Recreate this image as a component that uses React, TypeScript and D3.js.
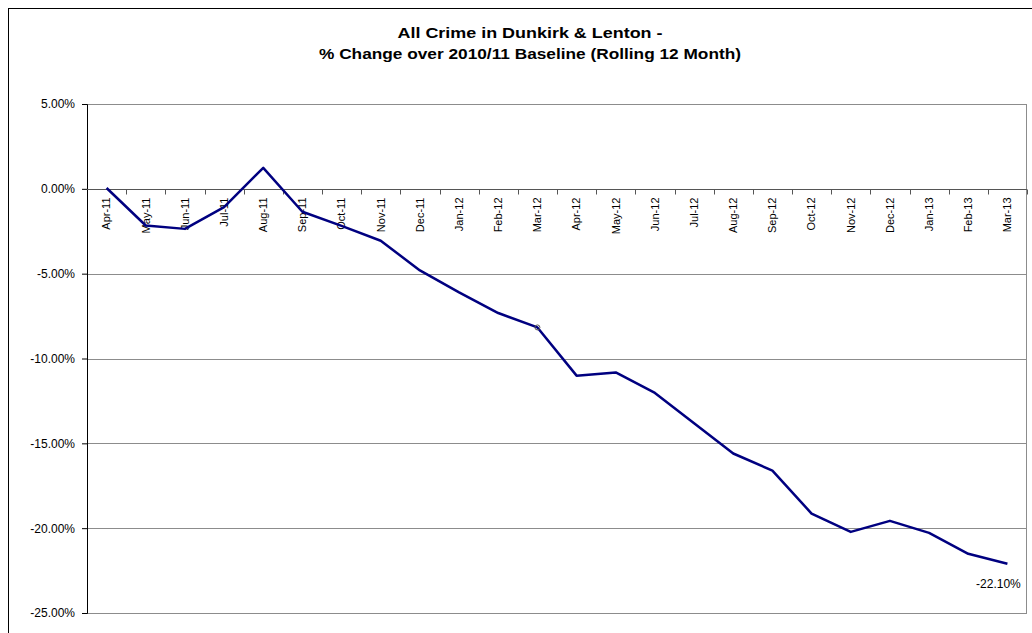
import React, { useEffect, useRef } from "react";
import * as d3 from "d3";

const months = [
  "Apr-11", "May-11", "Jun-11", "Jul-11", "Aug-11", "Sep-11", "Oct-11", "Nov-11",
  "Dec-11", "Jan-12", "Feb-12", "Mar-12", "Apr-12", "May-12", "Jun-12", "Jul-12",
  "Aug-12", "Sep-12", "Oct-12", "Nov-12", "Dec-12", "Jan-13", "Feb-13", "Mar-13",
];

const pctChange = [
  0.05, -2.16, -2.36, -1.08, 1.24, -1.35, -2.18, -3.06,
  -4.81, -6.1, -7.32, -8.17, -11.01, -10.82, -12.03, -13.82,
  -15.6, -16.61, -19.14, -20.22, -19.57, -20.28, -21.51, -22.1,
];

const yTicks = [5, 0, -5, -10, -15, -20, -25];

const titleLines = [
  "All Crime in Dunkirk & Lenton -",
  "% Change over 2010/11 Baseline (Rolling 12 Month)",
];

export default function App() {
  const ref = useRef<SVGSVGElement>(null);

  useEffect(() => {
    const width = 1032;
    const height = 633;
    const margin = { top: 104, left: 87, right: 5, bottom: 20 };
    const plotW = width - margin.left - margin.right;
    const plotH = 613 - margin.top;
    const font = "Arial, 'Liberation Sans', sans-serif";

    const svg = d3.select(ref.current);
    svg.selectAll("*").remove();

    // outer chart border
    svg
      .append("rect")
      .attr("x", 8.5)
      .attr("y", 8.5)
      .attr("width", width + 20)
      .attr("height", height + 20)
      .attr("fill", "white")
      .attr("stroke", "#000");

    const titleLen = [265, 422];
    titleLines.forEach((t, i) => {
      svg
        .append("text")
        .attr("x", 530)
        .attr("y", 38 + i * 21)
        .attr("text-anchor", "middle")
        .attr("textLength", titleLen[i])
        .attr("lengthAdjust", "spacingAndGlyphs")
        .style("font-family", font)
        .style("font-size", "15.5px")
        .style("font-weight", "bold")
        .text(t);
    });

    const x = d3.scaleBand().domain(months).range([0, plotW]);
    const y = d3.scaleLinear().domain([-25, 5]).range([plotH, 0]);

    const g = svg
      .append("g")
      .attr("transform", `translate(${margin.left},${margin.top})`);

    // gridlines
    g.append("g")
      .selectAll("line")
      .data(yTicks)
      .enter()
      .append("line")
      .attr("x1", 0)
      .attr("x2", plotW)
      .attr("y1", (d) => Math.round(y(d)) + 0.5)
      .attr("y2", (d) => Math.round(y(d)) + 0.5)
      .attr("stroke", "#8c8c8c");

    // plot border
    g.append("rect")
      .attr("x", 0.5)
      .attr("y", 0.5)
      .attr("width", plotW - 1)
      .attr("height", plotH)
      .attr("fill", "none")
      .attr("stroke", "#8c8c8c");

    // y axis
    const yAxis = g
      .append("g")
      .call(
        d3
          .axisLeft(y)
          .tickValues(yTicks)
          .tickSize(5)
          .tickPadding(7)
          .tickFormat((d) => (d as number).toFixed(2) + "%")
      );
    yAxis.select(".domain").attr("stroke", "#000");
    yAxis.selectAll(".tick line").attr("stroke", "#000");
    yAxis
      .selectAll("text")
      .style("font-family", font)
      .style("font-size", "12px")
      .attr("fill", "#000");

    // x axis at zero
    const y0 = Math.round(y(0)) + 0.5;
    g.append("line")
      .attr("x1", 0)
      .attr("x2", plotW)
      .attr("y1", y0)
      .attr("y2", y0)
      .attr("stroke", "#555");

    const bounds = d3.range(1, months.length + 1).map((i) => i * x.bandwidth());
    g.append("g")
      .selectAll("line")
      .data(bounds)
      .enter()
      .append("line")
      .attr("x1", (d) => Math.round(d) + 0.5)
      .attr("x2", (d) => Math.round(d) + 0.5)
      .attr("y1", y0)
      .attr("y2", y0 + 5)
      .attr("stroke", "#555");

    g.append("g")
      .selectAll("text")
      .data(months)
      .enter()
      .append("text")
      .attr(
        "transform",
        (d) => `translate(${x(d)! + x.bandwidth() / 2},${y0 + 8}) rotate(-90)`
      )
      .attr("text-anchor", "end")
      .attr("dy", "0.35em")
      .style("font-family", font)
      .style("font-size", "11px")
      .text((d) => d);

    // series line
    const line = d3
      .line<number>()
      .x((_, i) => x(months[i])! + x.bandwidth() / 2)
      .y((d) => y(d));

    g.append("path")
      .datum(pctChange)
      .attr("d", line)
      .attr("fill", "none")
      .attr("stroke", "#000080")
      .attr("stroke-width", 2.5)
      .attr("stroke-linejoin", "round");

    // stray marker at Mar-12
    const mi = months.indexOf("Mar-12");
    g.append("circle")
      .attr("cx", x(months[mi])! + x.bandwidth() / 2)
      .attr("cy", y(pctChange[mi]))
      .attr("r", 2.5)
      .attr("fill", "none")
      .attr("stroke", "#555")
      .attr("stroke-width", 1);

    // last value label
    const last = pctChange.length - 1;
    g.append("text")
      .attr("x", x(months[last])! + x.bandwidth() / 2 - 9)
      .attr("y", y(pctChange[last]) + 24)
      .attr("text-anchor", "middle")
      .style("font-family", font)
      .style("font-size", "12px")
      .text(pctChange[last].toFixed(2) + "%");
  }, []);

  return (
    <svg
      ref={ref}
      width={1032}
      height={633}
      style={{ position: "absolute", left: 0, top: 0 }}
    />
  );
}
